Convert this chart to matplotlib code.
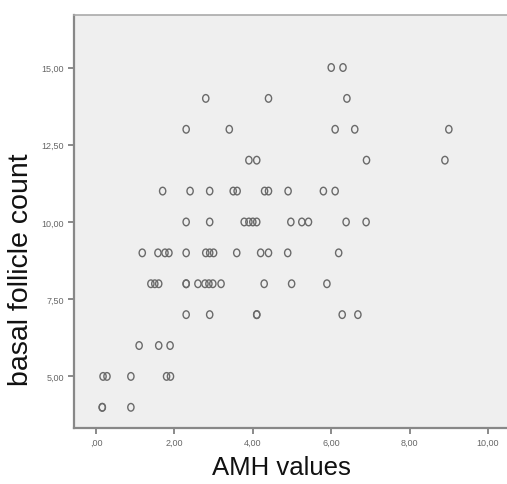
import matplotlib
matplotlib.use("Agg")
import matplotlib.pyplot as plt
from matplotlib.path import Path
from matplotlib.ticker import FuncFormatter

# AMH value (x) grouped by basal follicle count (y)
amh_by_count = {
    15: [6.0, 6.3],
    14: [2.8, 4.4, 6.4],
    13: [2.3, 3.4, 6.1, 6.6, 9.0],
    12: [3.9, 4.1, 6.9, 8.9],
    11: [1.7, 2.4, 2.9, 3.5, 3.6, 4.3, 4.4, 4.9, 5.8, 6.1],
    10: [2.3, 2.9, 3.78, 3.9, 4.0, 4.1, 4.97, 5.25, 5.42, 6.38, 6.89],
    9: [1.18, 1.58, 1.76, 1.86, 2.3, 2.8, 2.9, 3.0, 3.59, 4.2, 4.4, 4.89, 6.19],
    8: [1.4, 1.5, 1.6, 2.3, 2.3, 2.6, 2.78, 2.88, 2.98, 3.19, 4.29, 4.99, 5.89],
    7: [2.3, 2.9, 4.1, 4.1, 6.28, 6.68],
    6: [1.1, 1.6, 1.89],
    5: [0.18, 0.28, 0.89, 1.8, 1.9],
    4: [0.16, 0.16, 0.89],
}
x_ticks = [0, 2, 4, 6, 8, 10]
y_ticks = [5, 7.5, 10, 12.5, 15]

amh = []
follicles = []
for count, values in amh_by_count.items():
    for v in values:
        amh.append(v)
        follicles.append(count)


def comma_fmt(v, pos):
    s = f"{v:.2f}".replace(".", ",")
    if s.startswith("0,"):
        s = s[1:]
    return s


# slightly tall "o" like the SPSS marker
circ = Path.unit_circle()
oval = Path(circ.vertices * [0.82, 1.0], circ.codes)

plt.rcParams['font.family'] = ['Liberation Sans', 'DejaVu Sans']

fig = plt.figure(figsize=(5.07, 4.85), dpi=100)
ax = fig.add_axes([74 / 507, 56 / 485, 436 / 507, 413 / 485])
ax.set_facecolor('#efefef')

ax.scatter(amh, follicles, s=30, marker=oval, facecolors='none',
           edgecolors='#6a6a6a', linewidths=1.0, zorder=3)

ax.set_xlim(-0.561, 10.56)
ax.set_ylim(3.33, 16.70)
ax.set_xticks(x_ticks)
ax.set_yticks(y_ticks)
ax.xaxis.set_major_formatter(FuncFormatter(comma_fmt))
ax.yaxis.set_major_formatter(FuncFormatter(comma_fmt))
ax.tick_params(axis='both', direction='out', length=4, width=1.2,
               color='#777777', labelsize=6.5, labelcolor='#666666', pad=3)

for side in ['left', 'bottom']:
    ax.spines[side].set_color('#888888')
    ax.spines[side].set_linewidth(1.6)
for side in ['top', 'right']:
    ax.spines[side].set_color('#aaaaaa')
    ax.spines[side].set_linewidth(1.2)

fig.text(281 / 507, 1 - 468 / 485, 'AMH values', ha='center', va='center',
         fontsize=18.5, color='#111111')
fig.text(21 / 507, 1 - 270 / 485, 'basal follicle count', ha='center',
         va='center', rotation=90, fontsize=20.5, color='#111111')

fig.savefig('out.png', dpi=100)
